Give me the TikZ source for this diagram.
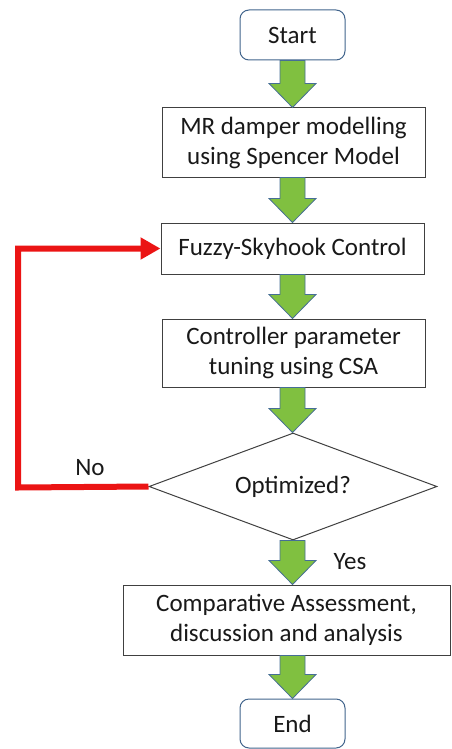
\documentclass[tikz,border=0pt]{standalone}
\usepackage{fontspec}
\setmainfont{Carlito}
\usetikzlibrary{shapes.geometric,arrows.meta,calc}
\definecolor{garrfill}{RGB}{128,192,64}
\definecolor{garredge}{RGB}{70,110,150}
\definecolor{termedge}{RGB}{65,100,140}
\definecolor{loopred}{RGB}{235,20,20}
\tikzset{
 box/.style={draw=black!75, line width=1pt, fill=white, inner sep=0pt, align=center,
   font=\fontsize{25}{30}\selectfont, text=black!90},
 term/.style={box, draw=termedge, rounded corners=9pt},
 decision/.style={box, shape=diamond, aspect=2.7},
 garr/.style={fill=garrfill, draw=garredge, line width=0.8pt, line join=miter},
 loopline/.style={draw=loopred, line width=6pt, line join=miter, -{Triangle[length=20pt,width=21pt]}},
 lbl/.style={font=\fontsize{25}{30}\selectfont, text=black!90},
}
\newcommand{\greenarrow}[2]{%
 \filldraw[garr] let \p1=(#1.south), \p2=(#2.north), \p3=(axis) in
 (\x3-12.5pt,\y1) -- (\x3+12.5pt,\y1) -- (\x3+12.5pt,\y2+24pt) -- (\x3+23.5pt,\y2+24pt)
 -- (\x3,\y2) -- (\x3-23.5pt,\y2+24pt) -- (\x3-12.5pt,\y2+24pt) -- cycle;}
\begin{document}
\begin{tikzpicture}[x=1pt,y=-1pt]
\useasboundingbox (0,0) rectangle (452,749);
\coordinate (axis) at (292.5,0);
\node[term, minimum width=105pt, minimum height=50pt] (start) at (292.5,35) {Start};
\node[box, minimum width=263pt, minimum height=69pt] (mr) at (293.5,142.5) {MR damper modelling\\using Spencer Model};
\node[box, minimum width=263pt, minimum height=51pt] (fuzzy) at (292.5,248.5) {Fuzzy-Skyhook Control};
\node[box, minimum width=263pt, minimum height=68pt] (tune) at (293.5,353) {Controller parameter\\tuning using CSA};
\node[decision, minimum width=288pt, minimum height=107pt] (dia) at (293,486.5) {Optimized?};
\node[box, minimum width=327pt, minimum height=70pt] (comp) at (286.5,620) {Comparative Assessment,\\discussion and analysis};
\node[term, minimum width=105pt, minimum height=49pt] (end) at (292.5,723.5) {End};
\greenarrow{start}{mr}
\greenarrow{mr}{fuzzy}
\greenarrow{fuzzy}{tune}
\greenarrow{tune}{dia}
\greenarrow{dia}{comp}
\greenarrow{comp}{end}
\coordinate (bend) at (18,487.5);
\draw[loopline] (dia.west) -- (bend) |- (fuzzy.west);
\node[lbl] (no) at (90,468) {No};
\node[lbl] (yes) at (350,562) {Yes};
\end{tikzpicture}
\end{document}
